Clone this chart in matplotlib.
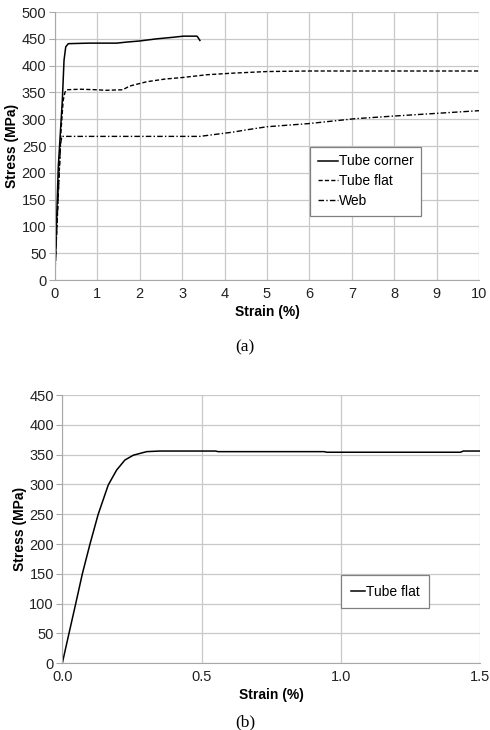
import matplotlib
matplotlib.use("Agg")
import matplotlib.pyplot as plt

plt.rcParams['font.family'] = ['Liberation Sans', 'DejaVu Sans']

# (a) stress-strain curves
corner_strain = [0, 0.085, 0.18, 0.22, 0.26, 0.32, 0.8, 1.46, 1.7, 2.0, 2.4, 2.8, 3.03, 3.35, 3.38, 3.42]
corner_stress = [0, 212, 335, 410, 435, 441, 442, 442, 444, 446, 450, 453, 455, 455, 452, 447]

flat_strain = [0, 0.05, 0.1, 0.15, 0.2, 0.24, 0.28, 0.6, 0.99, 1.2, 1.6, 1.77, 2.17, 2.6, 3.03, 3.58, 4.2, 5.0, 6.0, 10.0]
flat_stress = [0, 95, 190, 280, 335, 350, 355, 356, 355, 354, 355, 362, 370, 375, 378, 383, 386, 389, 390, 390]

web_strain = [0, 0.05, 0.1, 0.14, 0.17, 1.0, 2.0, 3.0, 3.42, 4.2, 4.5, 5.0, 6.0, 7.07, 8.0, 9.0, 10.0]
web_stress = [0, 95, 190, 255, 268, 268, 268, 268, 268, 276, 280, 286, 292, 301, 306, 311, 316]

# (b) tube flat, zoom on elastic range
b_strain = [0, 0.024, 0.048, 0.072, 0.0995, 0.129, 0.165, 0.195, 0.225, 0.255, 0.303, 0.35, 0.55, 0.56, 0.94, 0.95, 1.43, 1.44, 1.5]
b_stress = [0, 50, 99.5, 150, 200, 250, 299, 324, 341, 349, 355, 356, 356, 355, 355, 354, 354, 356, 356]

grid_c = '#c8c8c8'

fig = plt.figure(figsize=(4.9, 7.3), dpi=100)

def style(ax):
    ax.grid(True, color=grid_c, linewidth=0.9)
    ax.set_axisbelow(True)
    for s in ['top', 'right']:
        ax.spines[s].set_visible(False)
    for s in ['left', 'bottom']:
        ax.spines[s].set_color('#a8a8a8')
    ax.tick_params(axis='both', colors='#a8a8a8', labelcolor='#222222', labelsize=10.5,
                   width=0.8)
    ax.tick_params(axis='y', length=4, pad=2)
    ax.tick_params(axis='x', length=0, pad=5)
    ax.set_xlabel('Strain (%)', fontsize=10, fontweight='bold', labelpad=3)
    ax.set_ylabel('Stress (MPa)', fontsize=10, fontweight='bold', labelpad=2)

ax1 = fig.add_axes([0.1116, 0.6164, 0.8666, 0.3671])
ax1.plot(corner_strain, corner_stress, color='black', lw=1.1, label='Tube corner')
ax1.plot(flat_strain, flat_stress, color='black', lw=1.0, dashes=(3, 1.6), label='Tube flat')
ax1.plot(web_strain, web_stress, color='black', lw=1.0, dashes=(4, 1.6, 1, 1.6), label='Web')
ax1.set_xlim(0, 10)
ax1.set_ylim(0, 500)
ax1.set_xticks(range(0, 11))
ax1.set_yticks(range(0, 501, 50))
style(ax1)
leg1 = ax1.legend(loc='upper left', bbox_to_anchor=(0.601, 0.497), fontsize=10, frameon=True,
                  fancybox=False, edgecolor='#808080', framealpha=1, handlelength=1.45,
                  handletextpad=0.1, borderpad=0.55, labelspacing=0.42, borderaxespad=0)
leg1.get_frame().set_linewidth(0.9)
fig.text(0.5, 1 - 347 / 730, '(a)', ha='center', va='center', fontsize=12.5,
         family='Liberation Serif')

ax2 = fig.add_axes([0.1271, 0.0914, 0.8525, 0.3675])
ax2.plot(b_strain, b_stress, color='black', lw=1.1, label='Tube flat')
ax2.set_xlim(0, 1.5)
ax2.set_ylim(0, 450)
ax2.set_xticks([0, 0.5, 1.0, 1.5])
ax2.set_xticklabels(['0.0', '0.5', '1.0', '1.5'])
ax2.set_yticks(range(0, 451, 50))
style(ax2)
leg2 = ax2.legend(loc='upper left', bbox_to_anchor=(0.667, 0.329), fontsize=10, frameon=True,
                  fancybox=False, edgecolor='#808080', framealpha=1, handlelength=1.0,
                  handletextpad=0.1, borderpad=0.7, borderaxespad=0)
leg2.get_frame().set_linewidth(0.9)
fig.text(0.5, 0.0, '(b)', ha='center', va='bottom', fontsize=12.5,
         family='Liberation Serif')

fig.savefig('out.png', dpi=100)
